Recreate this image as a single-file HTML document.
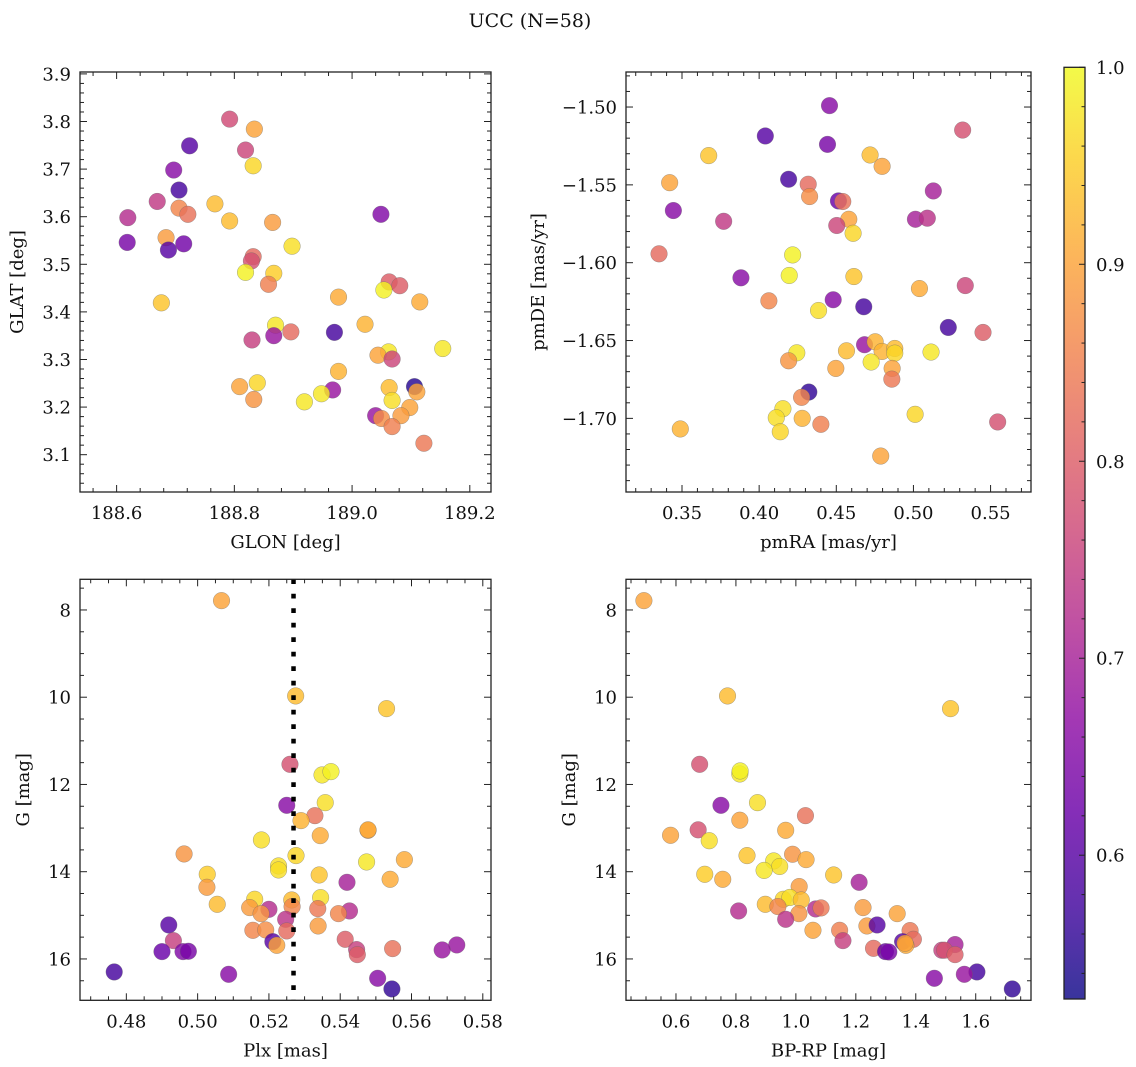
<!DOCTYPE html>
<html><head><meta charset="utf-8"><style>
html,body{margin:0;padding:0;background:#fff;}
svg{display:block;font-family:"DejaVu Serif","Liberation Serif",serif;}
</style></head><body>
<svg id="fig" width="1136" height="1067" viewBox="0 0 1136 1067" xmlns="http://www.w3.org/2000/svg">
<text x="530" y="27" font-size="19" text-anchor="middle" fill="#111">UCC (N=58)</text>
</svg>
<script>
// ---- Panel 1: GLON vs GLAT ----
const glon=[188.792,188.834,188.724,188.819,188.832,188.697,188.706,188.669,188.767,188.706,188.721,188.619,188.792,188.865,189.049,188.618,188.684,188.688,188.714,188.898,188.832,188.829,188.819,188.867,188.858,189.063,189.081,189.054,188.676,188.977,189.115,189.022,188.870,188.896,188.867,188.970,188.830,189.154,189.062,189.044,189.068,188.977,188.809,188.839,188.967,189.063,189.106,189.110,188.833,188.919,188.948,189.068,189.098,189.040,189.050,189.083,189.068,189.122];
const glat=[3.805,3.784,3.749,3.740,3.707,3.698,3.656,3.632,3.627,3.618,3.605,3.598,3.591,3.588,3.605,3.546,3.556,3.530,3.543,3.538,3.516,3.507,3.483,3.481,3.458,3.463,3.455,3.446,3.419,3.431,3.421,3.374,3.372,3.358,3.350,3.357,3.341,3.323,3.316,3.309,3.301,3.275,3.243,3.251,3.236,3.241,3.243,3.232,3.216,3.211,3.228,3.214,3.199,3.182,3.176,3.182,3.159,3.124];
const prob1=[.77,.90,.60,.76,.96,.66,.58,.74,.93,.86,.83,.72,.93,.89,.65,.64,.89,.60,.63,.97,.82,.78,.99,.95,.85,.80,.80,.99,.94,.91,.91,.92,.98,.82,.68,.58,.75,.98,.98,.90,.76,.92,.90,.96,.68,.93,.55,.90,.88,.98,.98,.97,.90,.68,.87,.89,.85,.84];
// ---- Panel 2: pmRA vs pmDE ----
const pmra=[0.4456,0.4040,0.4443,0.3673,0.4719,0.4797,0.5319,0.3420,0.4191,0.4318,0.4327,0.5129,0.3444,0.3770,0.4514,0.4542,0.4581,0.4503,0.5013,0.5090,0.4609,0.3351,0.4217,0.4195,0.3882,0.4614,0.5039,0.5336,0.4063,0.4480,0.4385,0.4678,0.5226,0.5451,0.4683,0.4752,0.4244,0.4566,0.4797,0.4879,0.4879,0.5114,0.4191,0.4726,0.4497,0.4862,0.4860,0.4322,0.4275,0.4154,0.4111,0.4279,0.4400,0.5011,0.5546,0.3489,0.4137,0.4788];
const pmde=[-1.4991,-1.5186,-1.5240,-1.5312,-1.5308,-1.5381,-1.5148,-1.5486,-1.5464,-1.5496,-1.5575,-1.5539,-1.5665,-1.5734,-1.5603,-1.5607,-1.5721,-1.5761,-1.5721,-1.5714,-1.5811,-1.5943,-1.5950,-1.6082,-1.6097,-1.6089,-1.6166,-1.6147,-1.6245,-1.6238,-1.6307,-1.6283,-1.6416,-1.6448,-1.6527,-1.6508,-1.6579,-1.6566,-1.6570,-1.6551,-1.6581,-1.6574,-1.6630,-1.6638,-1.6679,-1.6679,-1.6748,-1.6831,-1.6865,-1.6938,-1.6996,-1.7000,-1.7038,-1.6974,-1.7023,-1.7068,-1.7086,-1.7242];
const prob2=[.66,.60,.64,.94,.93,.90,.78,.90,.58,.82,.87,.70,.66,.74,.62,.83,.90,.76,.70,.73,.96,.82,.99,.99,.66,.94,.91,.76,.86,.66,.97,.58,.58,.80,.68,.92,.98,.93,.92,.93,.96,.98,.88,.98,.90,.90,.84,.56,.86,.97,.97,.92,.85,.96,.78,.92,.96,.90];
// ---- Panel 3: Plx vs G ----
const plx=[0.5067,0.5275,0.5530,0.5259,0.5349,0.5374,0.5250,0.5358,0.5329,0.5290,0.5478,0.5478,0.5344,0.5179,0.4962,0.5276,0.5580,0.5474,0.5227,0.5227,0.5027,0.5341,0.5540,0.5419,0.5026,0.5160,0.5345,0.5264,0.5055,0.5146,0.5265,0.5337,0.5200,0.5426,0.5178,0.5395,0.5247,0.5338,0.4919,0.5155,0.5191,0.5250,0.4932,0.5211,0.5222,0.5414,0.5727,0.4900,0.4959,0.4974,0.5446,0.5448,0.5547,0.5686,0.4766,0.5087,0.5505,0.5545];
const gmag3=[7.786,9.971,10.262,11.538,11.782,11.706,12.478,12.417,12.715,12.829,13.051,13.040,13.173,13.272,13.593,13.631,13.723,13.777,13.868,13.960,14.059,14.075,14.174,14.243,14.357,14.632,14.594,14.648,14.747,14.823,14.800,14.846,14.862,14.900,14.961,14.961,15.091,15.244,15.221,15.343,15.335,15.358,15.580,15.603,15.687,15.549,15.679,15.832,15.832,15.824,15.786,15.901,15.763,15.794,16.298,16.352,16.443,16.688];
const prob3=[.90,.93,.94,.78,.98,.99,.66,.97,.83,.92,.89,.91,.91,.97,.88,.96,.91,.98,.97,.97,.95,.94,.91,.70,.89,.96,.97,.93,.93,.89,.86,.84,.72,.72,.88,.86,.73,.89,.60,.86,.87,.82,.75,.60,.90,.80,.68,.62,.65,.64,.75,.80,.83,.68,.58,.66,.66,.56];
const plxMean=[0.5269];
// ---- Panel 4: BP-RP vs G ----
const bprp=[0.493,0.772,1.516,0.679,0.813,0.814,0.750,0.872,1.032,0.813,0.966,0.674,0.582,0.711,0.837,0.989,1.034,0.926,0.946,0.894,0.696,1.126,0.756,1.211,1.011,0.958,0.980,1.018,0.898,0.940,1.066,1.084,1.224,0.809,1.010,1.338,0.966,1.237,1.271,1.057,1.146,1.381,1.157,1.356,1.392,1.367,1.531,1.259,1.299,1.310,1.487,1.496,1.531,1.604,1.562,1.462,1.722,1.364];
const gmag4=[7.786,9.971,10.262,11.538,11.760,11.690,12.478,12.417,12.715,12.820,13.051,13.040,13.165,13.290,13.631,13.600,13.723,13.753,13.880,13.970,14.059,14.075,14.174,14.243,14.340,14.632,14.590,14.648,14.747,14.800,14.854,14.830,14.823,14.900,14.961,14.961,15.091,15.244,15.221,15.343,15.343,15.350,15.580,15.603,15.549,15.687,15.670,15.756,15.832,15.840,15.800,15.800,15.901,16.298,16.352,16.443,16.688,15.640];
const prob4=[.90,.93,.94,.78,.98,.99,.66,.97,.83,.90,.91,.78,.90,.97,.94,.88,.91,.98,.97,.98,.95,.94,.91,.70,.89,.96,.97,.93,.93,.86,.72,.84,.89,.72,.88,.90,.73,.89,.60,.90,.85,.84,.75,.60,.82,.91,.70,.82,.62,.64,.75,.78,.80,.58,.68,.66,.56,.90];
// colorbar ticks
const cbTicks=[0.6,0.7,0.8,0.9,1.0];

const NS="http://www.w3.org/2000/svg";
const svg=document.getElementById('fig');
const VMIN=0.527,VMAX=1.0;
const FS=18;
const plasma=[[13,8,135],[65,4,157],[106,0,168],[143,13,164],[177,42,144],[204,71,120],[225,100,98],[242,132,75],[252,166,54],[252,206,37],[240,249,33]];
function cmap(t){t=Math.max(0,Math.min(1,t));const f=t*10,i=Math.min(9,Math.floor(f)),r=f-i;const a=plasma[i],b=plasma[i+1];return `rgb(${Math.round(a[0]+(b[0]-a[0])*r)},${Math.round(a[1]+(b[1]-a[1])*r)},${Math.round(a[2]+(b[2]-a[2])*r)})`;}
function el(tag,attrs,parent){const e=document.createElementNS(NS,tag);for(const k in attrs)e.setAttribute(k,attrs[k]);(parent||svg).appendChild(e);return e;}
function fmt(v,d){let s=v.toFixed(d);if(v<0)s='\u2212'+s.slice(1);return s;}

function panel(cfg){
  const g=el('g',{});
  
  
  const {x0,x1,y0,y1,xl,yl}=cfg;
  const sx=v=>x0+(v-xl[0])/(xl[1]-xl[0])*(x1-x0);
  const sy=v=>y0+(v-yl[0])/(yl[1]-yl[0])*(y1-y0);
  const pg=el('g',{},g);
  
  
  for(let i=0;i<cfg.xs.length;i++){
    const c=el('circle',{cx:sx(cfg.xs[i]),cy:sy(cfg.ys[i]),r:8.3,fill:cmap((cfg.cs[i]-VMIN)/(VMAX-VMIN)),'fill-opacity':0.82,stroke:'#666','stroke-width':0.5,'stroke-opacity':0.6},pg);
    
    
  }
  if(cfg.vline){
    const l=el('line',{x1:sx(cfg.vline[0]),x2:sx(cfg.vline[0]),y1:y0,y2:y1,stroke:'#000','stroke-width':4.5,'stroke-dasharray':'4.7 9.8'},g);
    
    
  }
  const tk=el('g',{stroke:'#222','stroke-width':1},g);
  const xmin=Math.min(...xl),xmax=Math.max(...xl),ymin=Math.min(...yl),ymax=Math.max(...yl);
  for(let v=Math.ceil(xmin/cfg.xmin-1e-6)*cfg.xmin;v<=xmax+1e-9;v+=cfg.xmin){
    const isMaj=Math.abs(v/cfg.xmaj-Math.round(v/cfg.xmaj))<1e-4;const L=isMaj?7:4;const X=sx(v);
    el('line',{x1:X,x2:X,y1:y1,y2:y1-L},tk);el('line',{x1:X,x2:X,y1:y0,y2:y0+L},tk);
    if(isMaj){const t=el('text',{x:X,y:y1+27,'font-size':FS,'text-anchor':'middle',fill:'#111',stroke:'none'},g);t.textContent=fmt(v,cfg.xd);
      }
  }
  for(let v=Math.ceil(ymin/cfg.ymin-1e-6)*cfg.ymin;v<=ymax+1e-9;v+=cfg.ymin){
    const isMaj=Math.abs(v/cfg.ymaj-Math.round(v/cfg.ymaj))<1e-4;const L=isMaj?7:4;const Y=sy(v);
    el('line',{x1:x0,x2:x0+L,y1:Y,y2:Y},tk);el('line',{x1:x1,x2:x1-L,y1:Y,y2:Y},tk);
    if(isMaj){const t=el('text',{x:x0-9,y:Y+6.5,'font-size':FS,'text-anchor':'end',fill:'#111',stroke:'none'},g);t.textContent=fmt(v,cfg.yd);
      }
  }
  const fr=el('rect',{x:x0,y:y0,width:x1-x0,height:y1-y0,fill:'none',stroke:'#222','stroke-width':1.3},g);
  
  const xt=el('text',{x:(x0+x1)/2,y:y1+56,'font-size':FS,'text-anchor':'middle',fill:'#111'},g);xt.textContent=cfg.xlabel;
  
  const yt=el('text',{x:cfg.ylx,y:(y0+y1)/2,'font-size':FS,'text-anchor':'middle',fill:'#111',transform:`rotate(-90 ${cfg.ylx} ${(y0+y1)/2})`},g);yt.textContent=cfg.ylabel;
  
}

panel({name:'glon-glat-panel',x0:80,x1:491,y0:72,y1:492,xl:[188.5378,189.236],yl:[3.904,3.0216],xs:glon,ys:glat,cs:prob1,xmaj:0.2,xmin:0.04,ymaj:0.1,ymin:0.02,xd:1,yd:1,xlabel:'GLON [deg]',ylabel:'GLAT [deg]',ylx:23});
panel({name:'pm-panel',x0:626,x1:1031,y0:72,y1:492,xl:[0.3137,0.5762],yl:[-1.4775,-1.7473],xs:pmra,ys:pmde,cs:prob2,xmaj:0.05,xmin:0.01,ymaj:0.05,ymin:0.01,xd:2,yd:2,xlabel:'pmRA [mas/yr]',ylabel:'pmDE [mas/yr]',ylx:544});
panel({name:'plx-g-panel',x0:80,x1:491,y0:579.3,y1:1000.3,xl:[0.4670,0.5823],yl:[7.297,16.948],xs:plx,ys:gmag3,cs:prob3,vline:plxMean,xmaj:0.02,xmin:0.005,ymaj:2,ymin:0.5,xd:2,yd:0,xlabel:'Plx [mas]',ylabel:'G [mag]',ylx:29});
panel({name:'cmd-panel',x0:626,x1:1031,y0:579.3,y1:1000.3,xl:[0.4333,1.7844],yl:[7.297,16.948],xs:bprp,ys:gmag4,cs:prob4,xmaj:0.2,xmin:0.05,ymaj:2,ymin:0.5,xd:1,yd:0,xlabel:'BP-RP [mag]',ylabel:'G [mag]',ylx:575});

(function(){
  const cx0=1064,cx1=1085,cy0=67.3,cy1=999;
  const g=el('g',{});
  
  
  const defs=el('defs',{},g);
  const lg=el('linearGradient',{id:'cbg',x1:0,y1:1,x2:0,y2:0},defs);
  for(let i=0;i<=10;i++)el('stop',{offset:i/10,'stop-color':cmap(i/10),'stop-opacity':0.82},lg);
  el('rect',{x:cx0,y:cy0,width:cx1-cx0,height:cy1-cy0,fill:'url(#cbg)'},g);
  const sy=v=>cy0+(VMAX-v)/(VMAX-VMIN)*(cy1-cy0);
  for(let v=0.54;v<=1.0001;v+=0.02){
    const Y=sy(v);const maj=Math.abs(v*10-Math.round(v*10))<1e-4;
    el('line',{x1:cx1,x2:cx1-(maj?6:3.5),y1:Y,y2:Y,stroke:'#222','stroke-width':1},g);
  }
  cbTicks.forEach(v=>{const t=el('text',{x:cx1+11,y:sy(v)+6.5,'font-size':FS,fill:'#111'},g);t.textContent=v.toFixed(1);
    });
  el('rect',{x:cx0,y:cy0,width:cx1-cx0,height:cy1-cy0,fill:'none',stroke:'#222','stroke-width':1.3},g);
})();
</script>
</body></html>
